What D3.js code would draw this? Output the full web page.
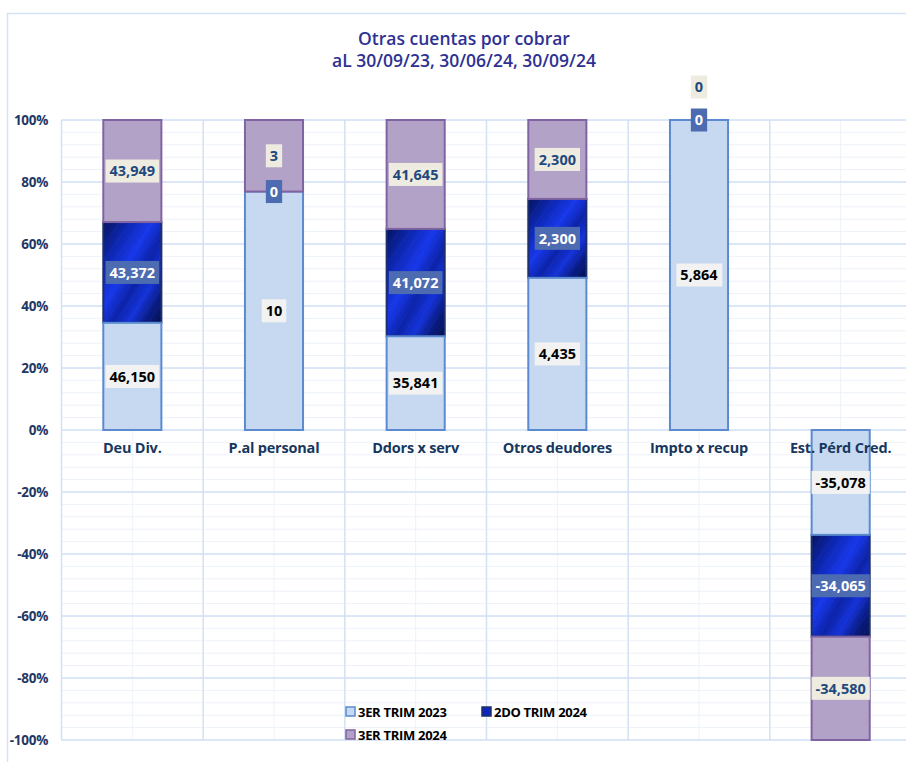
<!DOCTYPE html>
<html>
<head>
<meta charset="utf-8">
<script src="https://cdn.jsdelivr.net/npm/d3@7"></script>
<style>
  body { margin: 0; background: #fff; }
  svg { display: block; font-family: "Open Sans", "Noto Sans", sans-serif; }
</style>
</head>
<body>
<div id="chart"></div>
<script>
// data
var categories = ["Deu Div.", "P.al personal", "Ddors x serv", "Otros deudores", "Impto x recup", "Est. P\u00e9rd Cred."];
var seriesNames = ["3ER TRIM 2023", "2DO TRIM 2024", "3ER TRIM 2024"];
var trim23 = [46150, 10, 35841, 4435, 5864, -35078];
var trim2q24 = [43372, 0, 41072, 2300, 0, -34065];
var trim3q24 = [43949, 3, 41645, 2300, 0, -34580];
var yTicks = [-1, -0.8, -0.6, -0.4, -0.2, 0, 0.2, 0.4, 0.6, 0.8, 1];

var width = 906, height = 762;
var margin = {left: 61.5, right: -5.5, top: 120, bottom: 22};

var svg = d3.select("#chart").append("svg")
    .attr("width", width)
    .attr("height", height);

var defs = svg.append("defs");

// brushed blue fill for the middle series
var grad = defs.append("linearGradient")
    .attr("id", "blueBrush")
    .attr("x1", "0%").attr("y1", "0%")
    .attr("x2", "100%").attr("y2", "100%");
[["0%", "#06135e"], ["22%", "#0d27b0"], ["42%", "#1838ea"], ["58%", "#0c23a8"],
 ["72%", "#1533d8"], ["86%", "#091b80"], ["100%", "#051150"]].forEach(function(s){
  grad.append("stop").attr("offset", s[0]).attr("stop-color", s[1]);
});
var pat = defs.append("pattern")
    .attr("id", "streaks")
    .attr("patternUnits", "userSpaceOnUse")
    .attr("width", 9).attr("height", 9)
    .attr("patternTransform", "rotate(35)");
pat.append("line")
    .attr("x1", 0).attr("y1", 0).attr("x2", 0).attr("y2", 9)
    .attr("stroke", "#3f62ff").attr("stroke-width", 1).attr("opacity", 0.18);

var x = d3.scaleBand()
    .domain(categories)
    .range([margin.left, width - margin.right])
    .padding(0);

var y = d3.scaleLinear()
    .domain([-1, 1])
    .range([height - margin.bottom, margin.top]);

var barW = x.bandwidth() * 0.41;

// outer chart border
svg.append("rect")
    .attr("x", 7.5).attr("y", 13.5)
    .attr("width", width + 20).attr("height", height + 20)
    .attr("fill", "none")
    .attr("stroke", "#d5e2f3")
    .attr("stroke-width", 1.5);

// title
var title = svg.append("text")
    .attr("text-anchor", "middle")
    .attr("fill", "#2e3192")
    .attr("font-size", 17.5)
    .attr("font-weight", 600);
title.append("tspan").attr("x", 464).attr("y", 45).text("Otras cuentas por cobrar");
title.append("tspan").attr("x", 464).attr("y", 67).text("aL 30/09/23, 30/06/24, 30/09/24");

// gridlines
var grid = svg.append("g");
var minor = d3.range(-1, 1.0001, 0.04);
grid.selectAll("line.hminor")
    .data(minor)
  .enter().append("line")
    .attr("x1", margin.left).attr("x2", width)
    .attr("y1", function(d){ return y(d); })
    .attr("y2", function(d){ return y(d); })
    .attr("stroke", "#edf2fa").attr("stroke-width", 1);
grid.selectAll("line.vminor")
    .data(categories)
  .enter().append("line")
    .attr("x1", function(d){ return x(d) + x.bandwidth() / 2; })
    .attr("x2", function(d){ return x(d) + x.bandwidth() / 2; })
    .attr("y1", y(1)).attr("y2", y(-1))
    .attr("stroke", "#edf2fa").attr("stroke-width", 1);
grid.selectAll("line.hmajor")
    .data(yTicks)
  .enter().append("line")
    .attr("x1", margin.left).attr("x2", width)
    .attr("y1", function(d){ return y(d); })
    .attr("y2", function(d){ return y(d); })
    .attr("stroke", "#d3e1f4").attr("stroke-width", 1.5);
grid.selectAll("line.vmajor")
    .data(categories.concat(["end"]))
  .enter().append("line")
    .attr("x1", function(d, i){ return margin.left + i * x.step(); })
    .attr("x2", function(d, i){ return margin.left + i * x.step(); })
    .attr("y1", y(1)).attr("y2", y(-1))
    .attr("stroke", "#d3e1f4").attr("stroke-width", 1.5);

// y axis labels
svg.append("g").selectAll("text")
    .data(yTicks)
  .enter().append("text")
    .attr("x", 48)
    .attr("y", function(d){ return y(d); })
    .attr("dy", "0.35em")
    .attr("text-anchor", "end")
    .attr("fill", "#1f3864")
    .attr("font-size", 13.5)
    .attr("font-weight", 700)
    .attr("letter-spacing", -0.3)
    .text(function(d){ return Math.round(d * 100) + "%"; });

// 100% stacking, positive and negative stacks kept apart
var raw = [trim23, trim2q24, trim3q24];
var styles = [
  {fill: "#c6d9f1", stroke: "#5b8ad0", box: "#f2f2f2", text: "#000000"},
  {fill: "url(#blueBrush)", stroke: "#1c2f6b", box: "#4d6bb0", text: "#ffffff"},
  {fill: "#b3a2c7", stroke: "#8064a2", box: "#eeece1", text: "#1f497d"}
];
var segs = [];
categories.forEach(function(c, j){
  var tot = d3.sum(raw, function(s){ return Math.abs(s[j]); });
  var pos = 0, neg = 0;
  raw.forEach(function(s, i){
    var v = s[j] / tot;
    var y0, y1;
    if (v >= 0) { y0 = pos; pos += v; y1 = pos; }
    else { y0 = neg; neg += v; y1 = neg; }
    segs.push({cat: c, series: i, value: s[j], y0: y0, y1: y1});
  });
});

// bars (the blue series first so its neighbours' borders show on top)
var bars = svg.append("g");
[1, 0, 2].forEach(function(i){
  var d = segs.filter(function(s){ return s.series === i && s.y0 !== s.y1; });
  var g = bars.append("g");
  g.selectAll("rect")
      .data(d)
    .enter().append("rect")
      .attr("x", function(s){ return x(s.cat) + (x.bandwidth() - barW) / 2; })
      .attr("y", function(s){ return y(Math.max(s.y0, s.y1)); })
      .attr("width", barW)
      .attr("height", function(s){ return Math.abs(y(s.y0) - y(s.y1)); })
      .attr("fill", styles[i].fill)
      .attr("stroke", styles[i].stroke)
      .attr("stroke-width", 2);
  if (i === 1) {
    g.selectAll("rect.streak")
        .data(d)
      .enter().append("rect")
        .attr("x", function(s){ return x(s.cat) + (x.bandwidth() - barW) / 2 + 1; })
        .attr("y", function(s){ return y(Math.max(s.y0, s.y1)) + 1; })
        .attr("width", barW - 2)
        .attr("height", function(s){ return Math.abs(y(s.y0) - y(s.y1)) - 2; })
        .attr("fill", "url(#streaks)");
  }
});

// category labels
svg.append("g").selectAll("text")
    .data(categories)
  .enter().append("text")
    .attr("x", function(d){ return x(d) + x.bandwidth() / 2; })
    .attr("y", y(0) + 23)
    .attr("text-anchor", "middle")
    .attr("fill", "#17375e")
    .attr("font-size", 14.5)
    .attr("font-weight", 700)
    .attr("letter-spacing", -0.2)
    .text(function(d){ return d; });

// data labels
var fmt = d3.formatLocale({decimal: ".", thousands: ",", grouping: [3], currency: ["", ""], minus: "-"}).format(",");
var labels = svg.append("g");
var placed = {};
segs.forEach(function(s){
  var cy = y((s.y0 + s.y1) / 2);
  placed[s.cat] = placed[s.cat] || [];
  while (placed[s.cat].some(function(p){ return Math.abs(p - cy) < 20; })) cy -= 33;
  placed[s.cat].push(cy);
  var st = styles[s.series];
  var g = labels.append("g");
  var t = g.append("text")
      .attr("x", x(s.cat) + x.bandwidth() / 2)
      .attr("y", cy)
      .attr("dy", "0.36em")
      .attr("text-anchor", "middle")
      .attr("fill", st.text)
      .attr("font-size", 14.5)
      .attr("font-weight", 700)
      .text(fmt(s.value));
  var bb = t.node().getBBox();
  g.insert("rect", "text")
      .attr("x", bb.x - 4)
      .attr("y", cy - 11.5)
      .attr("width", bb.width + 8)
      .attr("height", 23)
      .attr("fill", st.box);
});

// legend
var legendPos = [[346, 712], [482, 712], [346, 735]];
var legendFill = ["#c6d9f1", "#0d28b8", "#b3a2c7"];
var lg = svg.append("g");
seriesNames.forEach(function(n, i){
  var p = legendPos[i];
  lg.append("rect")
      .attr("x", p[0]).attr("y", p[1] - 5)
      .attr("width", 9).attr("height", 9)
      .attr("fill", legendFill[i])
      .attr("stroke", styles[i].stroke)
      .attr("stroke-width", 1.5);
  lg.append("text")
      .attr("x", p[0] + 12).attr("y", p[1])
      .attr("dy", "0.35em")
      .attr("fill", "#000")
      .attr("font-size", 13)
      .attr("font-weight", 700)
      .attr("letter-spacing", -0.3)
      .text(n);
});
</script>
</body>
</html>
